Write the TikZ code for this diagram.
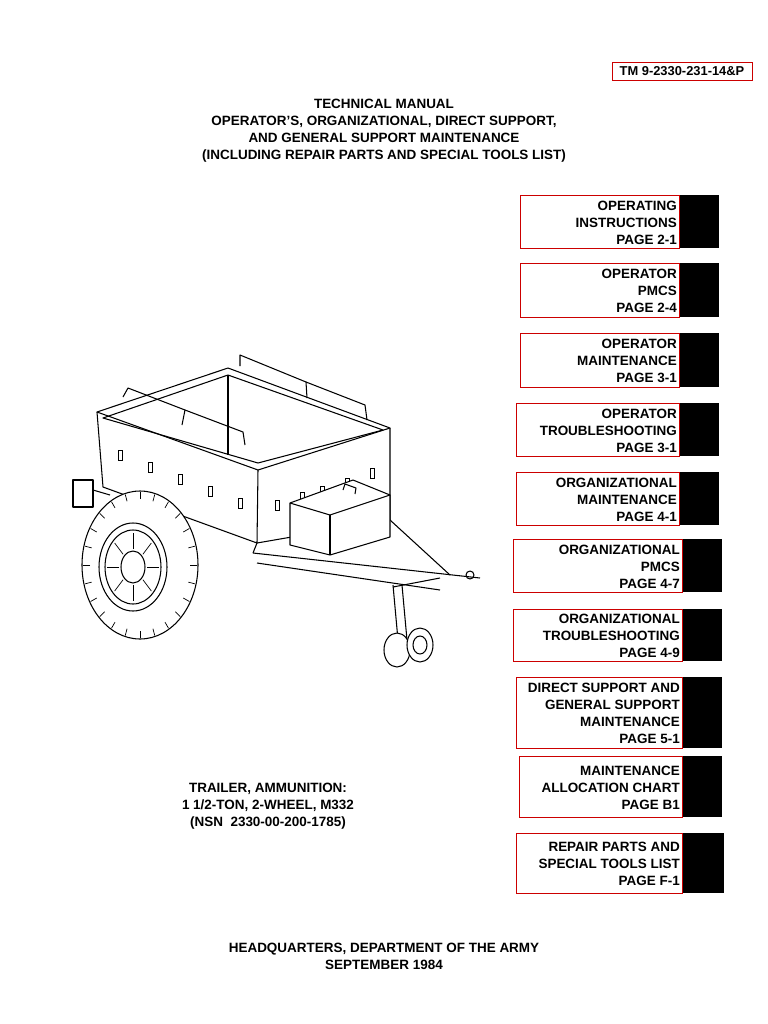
\documentclass[tikz,border=0pt]{standalone}
\usepackage{fontspec}
\setmainfont{Liberation Sans}
\usetikzlibrary{positioning}
\tikzset{
  tabbox/.style={draw=red!80!black,line width=0.8pt},
  tabfill/.style={fill=black},
  tablabel/.style={anchor=east,align=right,font=\bfseries\fontsize{11.5}{14.5}\selectfont,inner sep=0pt},
  head/.style={align=center,font=\bfseries\fontsize{11.5}{14.5}\selectfont},
  trl/.style={line width=0.9pt,line join=round}
}
\begin{document}
\begin{tikzpicture}[x=0.03cm,y=-0.03cm]
\useasboundingbox (0,0) rectangle (768,1024);
% number box
\node[tabbox,font=\bfseries\fontsize{11}{12}\selectfont,minimum width=4.2cm,minimum height=0.54cm,inner sep=0pt](tm)at(682,71){TM 9-2330-231-14\&P};
\node[head](title)at(384,131){TECHNICAL MANUAL\\OPERATOR'S, ORGANIZATIONAL, DIRECT SUPPORT,\\AND GENERAL SUPPORT MAINTENANCE\\(INCLUDING REPAIR PARTS AND SPECIAL TOOLS LIST)};
% tabs
\foreach \xa/\ya/\xb/\yb/\xc/\txt [count=\i] in {
  520/195/679/248/719/{OPERATING\\INSTRUCTIONS\\PAGE 2-1},
  520/263/679/317/719/{OPERATOR\\PMCS\\PAGE 2-4},
  520/333/679/387/719/{OPERATOR\\MAINTENANCE\\PAGE 3-1},
  516/403/679/456/719/{OPERATOR\\TROUBLESHOOTING\\PAGE 3-1},
  516/472/679/525/719/{ORGANIZATIONAL\\MAINTENANCE\\PAGE 4-1},
  513/539/682/592/722/{ORGANIZATIONAL\\PMCS\\PAGE 4-7},
  513/609/682/661/722/{ORGANIZATIONAL\\TROUBLESHOOTING\\PAGE 4-9},
  516/677/682/748/722/{DIRECT SUPPORT AND\\GENERAL SUPPORT\\MAINTENANCE\\PAGE 5-1},
  519/756/682/817/722/{MAINTENANCE\\ALLOCATION CHART\\PAGE B1},
  516/833/682/893/724/{REPAIR PARTS AND\\SPECIAL TOOLS LIST\\PAGE F-1}}{
  \fill[tabfill](\xb,\ya)rectangle(\xc,\yb);
  \draw[tabbox](\xa,\ya)rectangle(\xb,\yb);
  \node[tablabel](tab\i)at(\xb-2,{(\ya+\yb)/2+1}){\txt};
}
% trailer
\draw[trl,fill=white](97,412)--(228,368)--(390,428)--(258,470)--cycle;
\draw[trl](103,418)--(228,375)--(383,430)--(258,463)--cycle;
\draw[trl](228,375)--(228,455);
\draw[trl](97,412)--(103,487)--(257,543)--(258,470);
\draw[trl](257,543)--(390,520)--(390,428);
\foreach \px/\py in {118/450,148/462,178/474,208/486,238/498,275/500,300/492,320/486,345/478,370/468}
  \draw[line width=0.7pt](\px,\py)rectangle(\px+4,\py+10);
% rails
\draw[trl](123,397)--(128,388)--(185,410)--(182,425);
\draw[trl](185,410)--(243,432)--(245,445);
\draw[trl](240,366)--(240,355)--(306,382)--(307,398);
\draw[trl](306,382)--(365,405)--(367,420);
% lamp
\draw[trl](73,480)rectangle(93,507);
\draw[trl](93,490)--(110,495);
% wheel
\draw[trl,fill=white](140,565)ellipse[x radius=58,y radius=74];
\foreach \k in {0,15,...,345}
  \draw[line width=0.6pt]({140+50*cos(\k)},{565+66*sin(\k)})--({140+57*cos(\k)},{565+73*sin(\k)});
\draw[trl,fill=white](133,567)ellipse[x radius=34,y radius=44];
\draw[trl](133,567)ellipse[x radius=28,y radius=37];
\draw[trl](133,567)ellipse[x radius=12,y radius=16];
\foreach \k in {0,45,...,315}
  \draw[line width=0.6pt]({133+14*cos(\k)},{567+18*sin(\k)})--({133+26*cos(\k)},{567+34*sin(\k)});
% tongue
\draw[trl](253,553)--(480,578);
\draw[trl](257,563)--(440,590);
\draw[trl](257,543)--(253,553);
\draw[trl](390,520)--(450,575);
\draw[trl](470,575)circle(4);
% chest
\draw[trl,fill=white](290,503)--(353,480)--(390,495)--(390,537)--(330,555)--(290,545)--cycle;
\draw[trl](290,503)--(330,515)--(390,495);
\draw[trl](330,515)--(330,555);
\draw[trl](343,490)--(345,484)--(356,488)--(355,494);
% jack
\draw[trl](393,585)--(398,640);
\draw[trl](402,585)--(407,640);
\draw[trl](393,587)--(440,578);
\draw[trl,fill=white](397,650)ellipse[x radius=13,y radius=17];
\draw[trl,fill=white](420,645)ellipse[x radius=13,y radius=17];
\draw[trl](420,645)ellipse[x radius=7,y radius=9];
% captions
\node[head,anchor=center](cap)at(268,806){TRAILER, AMMUNITION:\\1 1/2-TON, 2-WHEEL, M332\\(NSN\ \ 2330-00-200-1785)};
\node[head](hq)at(384,956){HEADQUARTERS, DEPARTMENT OF THE ARMY\\SEPTEMBER 1984};
\end{tikzpicture}
\end{document}
